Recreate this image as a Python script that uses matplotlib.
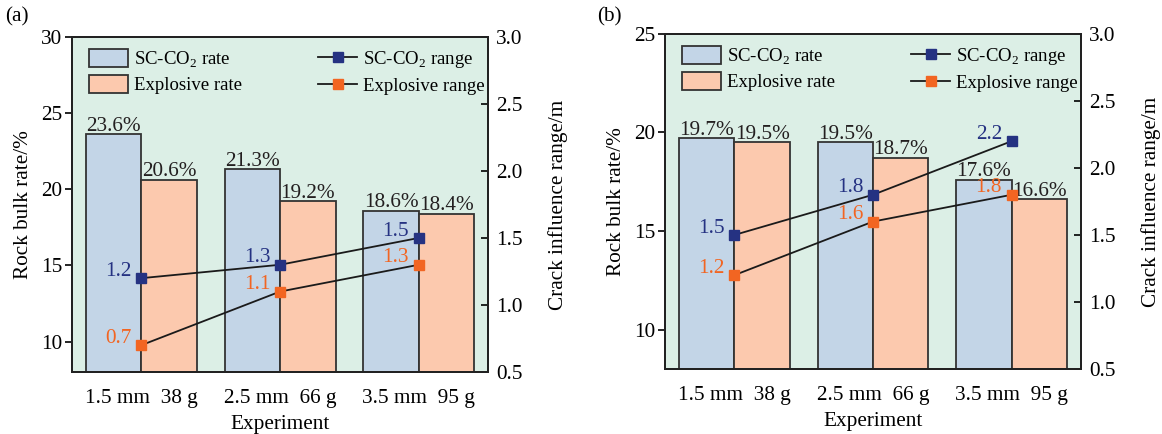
import numpy as np
import matplotlib.pyplot as plt
from matplotlib.patches import Patch
from matplotlib.lines import Line2D

plt.rcParams['font.family'] = ['Liberation Serif', 'DejaVu Serif']
plt.rcParams['mathtext.fontset'] = 'custom'
plt.rcParams['mathtext.rm'] = 'Liberation Serif'

# data
categories = ['1.5 mm  38 g', '2.5 mm  66 g', '3.5 mm  95 g']
a_co2_rate = [23.6, 21.3, 18.6]
a_exp_rate = [20.6, 19.2, 18.4]
a_co2_range = [1.2, 1.3, 1.5]
a_exp_range = [0.7, 1.1, 1.3]
b_co2_rate = [19.7, 19.5, 17.6]
b_exp_rate = [19.5, 18.7, 16.6]
b_co2_range = [1.5, 1.8, 2.2]
b_exp_range = [1.2, 1.6, 1.8]

bg = '#dcefe6'
blue_bar = '#c3d5e7'
orange_bar = '#fcc9ae'
blue_mk = '#253282'
orange_mk = '#f26522'
edge = '#333333'
fs = 15.3
leg_fs = 13.5


def panel(rect, co2_rate, exp_rate, co2_range, exp_range, ylim, yticks, tag, tag_x):
    ax = fig.add_axes(rect)
    ax.set_facecolor(bg)
    x = np.arange(len(categories))
    w = 0.4
    b1 = ax.bar(x - w / 2, co2_rate, w, color=blue_bar, edgecolor=edge, linewidth=1.3)
    b2 = ax.bar(x + w / 2, exp_rate, w, color=orange_bar, edgecolor=edge, linewidth=1.3)
    for rect_, v in zip(list(b1) + list(b2), co2_rate + exp_rate):
        ax.annotate(f'{v}%', (rect_.get_x() + rect_.get_width() / 2, v),
                    xytext=(0, -1), textcoords='offset points',
                    ha='center', va='bottom', fontsize=fs, color='#231f20')
    ax.set_xlim(-0.5, 2.5)
    ax.set_ylim(*ylim)
    ax.set_yticks(yticks)
    ax.set_xticks(x)
    ax.set_xticklabels(categories)
    ax.tick_params(axis='x', length=0, pad=12, labelsize=fs)
    ax.tick_params(axis='y', direction='out', length=5, width=1.2, pad=2, labelsize=fs)
    ax.set_xlabel('Experiment', fontsize=fs, labelpad=5)
    ax.set_ylabel('Rock bulk rate/%', fontsize=fs, labelpad=6)

    ax2 = ax.twinx()
    ax2.plot(x, co2_range, color='#1a1a1a', lw=1.3, marker='s', ms=7,
             mfc=blue_mk, mec=blue_mk)
    ax2.plot(x, exp_range, color='#1a1a1a', lw=1.3, marker='s', ms=7,
             mfc=orange_mk, mec=orange_mk)
    for xi, v in zip(x, co2_range):
        ax2.annotate(f'{v}', (xi, v), xytext=(-7, 5), textcoords='offset points',
                     ha='right', va='center', fontsize=fs, color=blue_mk)
    for xi, v in zip(x, exp_range):
        ax2.annotate(f'{v}', (xi, v), xytext=(-7, 5), textcoords='offset points',
                     ha='right', va='center', fontsize=fs, color=orange_mk)
    rticks = np.arange(0.5, 3.01, 0.5)
    ax2.set_ylim(0.5, 3.0)
    ax2.set_yticks(rticks)
    ax2.set_yticklabels([f'{t:.1f}' for t in rticks])
    ax2.tick_params(axis='y', direction='in', length=5, width=1.2, pad=6, labelsize=fs)
    ax2.set_ylabel('Crack influence range/m', fontsize=fs, labelpad=18)
    for a in (ax, ax2):
        for s in a.spines.values():
            s.set_linewidth(1.4)
            s.set_color('#222222')

    handles = [
        Patch(facecolor=blue_bar, edgecolor=edge, linewidth=1.3),
        Patch(facecolor=orange_bar, edgecolor=edge, linewidth=1.3),
        Line2D([], [], color='#1a1a1a', lw=1.3, marker='s', ms=7, mfc=blue_mk, mec=blue_mk),
        Line2D([], [], color='#1a1a1a', lw=1.3, marker='s', ms=7, mfc=orange_mk, mec=orange_mk),
    ]
    labels = ['SC-CO$_2$ rate', 'Explosive rate', 'SC-CO$_2$ range', 'Explosive range']
    ax2.legend(handles, labels, ncol=2, loc='upper left', bbox_to_anchor=(0.041, 0.963),
               borderaxespad=0, borderpad=0, frameon=False, fontsize=leg_fs,
               handlelength=2.08, handleheight=1.05, labelspacing=0.3,
               columnspacing=4.05, handletextpad=0.32)
    fig.text(tag_x, 0.962, tag, fontsize=fs, ha='left', va='center')
    return ax, ax2


fig = plt.figure(figsize=(11.62, 4.34), dpi=100)
panel([0.062, 0.1429, 0.358, 0.772], a_co2_rate, a_exp_rate, a_co2_range, a_exp_range,
      (8, 30), [10, 15, 20, 25, 30], '(a)', 0.004)
panel([0.5723, 0.1498, 0.358, 0.772], b_co2_rate, b_exp_rate, b_co2_range, b_exp_range,
      (8, 25), [10, 15, 20, 25], '(b)', 0.514)

fig.savefig('out.png', dpi=100)
